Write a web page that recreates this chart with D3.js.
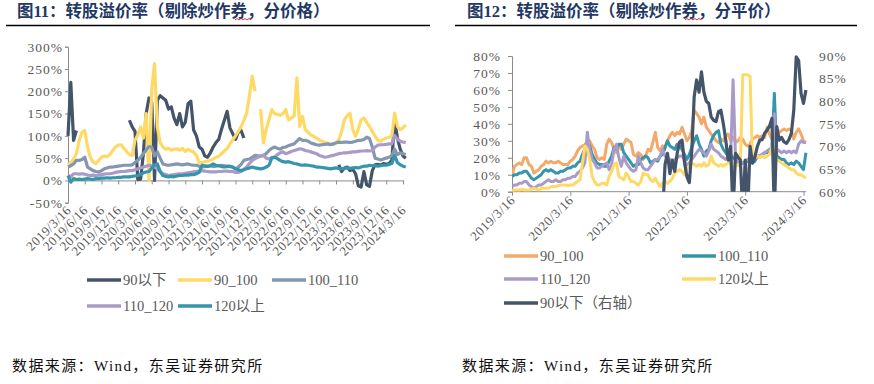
<!DOCTYPE html>
<html>
<head>
<meta charset="utf-8">
<script src="https://cdn.jsdelivr.net/npm/d3@7/dist/d3.min.js"></script>
<style>
  body { margin: 0; background: #fff; }
  svg text { font-family: "Liberation Serif", "Noto Sans CJK SC", serif; }
</style>
</head>
<body>
<svg width="874" height="384"></svg>
<script>
// values are read every half month, starting 2019/3/16
const ticksLeft = ["2019/3/16", "2019/6/16", "2019/9/16", "2019/12/16", "2020/3/16", "2020/6/16",
  "2020/9/16", "2020/12/16", "2021/3/16", "2021/6/16", "2021/9/16", "2021/12/16", "2022/3/16",
  "2022/6/16", "2022/9/16", "2022/12/16", "2023/3/16", "2023/6/16", "2023/9/16", "2023/12/16", "2024/3/16"];
const ticksRight = ["2019/3/16", "2020/3/16", "2021/3/16", "2022/3/16", "2023/3/16", "2024/3/16"];
const yTicksLeft = [-50, 0, 50, 100, 150, 200, 250, 300];
const yTicksRight = [0, 10, 20, 30, 40, 50, 60, 70, 80];
const yTicksRight2 = [60, 65, 70, 75, 80, 85, 90];

const namesLeft = ["90以下", "90_100", "100_110", "110_120", "120以上"];
const namesRight = ["90_100", "100_110", "110_120", "120以上", "90以下（右轴）"];

// chart 11
const L90down = [
  100, 220, 90, 112, null, null, null, null, null, null,
  null, null, null, null, null, null, null, null, null, null,
  null, null, 135, 120, 110, 2, 3, 60, 150, 185,
  175, 0, 180, 190, 185, 180, 160, 165, 140, 125,
  150, 120, 130, 172, 178, 113, 100, 75, 70, 55,
  52, 62, 75, 85, 92, 115, 135, 155, 118, 105,
  92, 108, 112, 95, null, null, null, null, null, null,
  null, null, null, null, null, null, null, null, null, null,
  null, null, null, null, null, null, null, null, null, null,
  null, null, null, null, null, null, null, 35, 20, 28,
  30, 22, 25, 15, -12, -15, 20, -10, -13, 22,
  35, 36, 34, 38, 36, 38, 45, 135, 95, 70,
  55, 50];
const L90_100 = [
  35, 40, 48, 60, 90, 108, 112, 75, 52, 41,
  38, 45, 52, 55, 53, 58, 67, 75, 79, 80,
  72, 65, 58, 56, 90, 102, 120, 95, 150, 0,
  205, 262, 120, 85, 75, 70, 72, 68, 70, 71,
  68, 72, 65, 70, 66, 64, 56, 40, 40, 42,
  43, 45, 48, 52, 54, 60, 66, 72, 82, 91,
  100, 110, 120, 135, 151, 190, 234, 200, null, 160,
  84, 114, 136, 159, 150, 148, 146, 150, 159, 136,
  140, 144, 230, 121, 144, 114, 108, 102, 99, 95,
  91, 88, 85, 84, 82, 80, 85, 91, 110, 136,
  145, 151, 114, 99, 115, 136, 140, 130, 121, 110,
  99, 90, 88, 92, 95, 97, 99, 151, 121, 114,
  118, 125];
const L100_110 = [
  30, 33, 37, 45, 45, 47, 52, 30, 26, 22,
  20, 19, 22, 26, 28, 30, 30, 31, 32, 33,
  34, 34, 34, 35, 40, 45, 52, 60, 68, 76,
  75, 55, 64, 50, 37, 35, 34, 35, 36, 37,
  36, 35, 36, 37, 35, 34, 34, 32, 30, 31,
  32, 33, 31, 32, 33, 34, 33, 32, 31, 30,
  26, 30, 36, 45, 47, 48, 52, 56, 55, 54,
  56, 60, 67, 72, 75, 72, 70, 74, 75, 78,
  80, 82, 88, 94, 90, 90, 88, 84, 82, 80,
  79, 80, 81, 82, 80, 82, 84, 86, 85, 86,
  86, 85, 86, 88, 90, 90, 92, 97, 94, 75,
  50, 48, 46, 48, 50, 52, 55, 70, 58, 62,
  60, 58];
const L110_120 = [
  12, 8, 15, 15, 14, 15, 14, 12, 11, 12,
  11, 12, 13, 14, 15, 15, 16, 18, 19, 20,
  20, 21, 22, 22, 24, 26, 28, 30, 32, 34,
  33, 30, 26, 20, 15, 13, 11, 12, 13, 14,
  15, 15, 16, 17, 18, 19, 20, 21, 22, 21,
  20, 19, 19, 19, 20, 20, 21, 21, 20, 20,
  18, 18, 20, 25, 30, 38, 45, 49, 52, 55,
  56, 50, 48, 52, 52, 58, 62, 64, 60, 62,
  65, 67, 69, 71, 70, 67, 66, 64, 62, 60,
  56, 54, 52, 53, 55, 56, 58, 60, 61, 62,
  62, 63, 64, 64, 65, 66, 66, 67, 66, 67,
  75, 79, 80, 80, 81, 82, 82, 101, 92, 88,
  86, 85];
const L120up = [
  11, -4, 4, 2, 3, 2, 3, 4, 3, 2,
  4, 4, 5, 5, 6, 5, 6, 6, 7, 7,
  8, 8, 8, 9, 10, 11, 13, 17, 19, 20,
  28, 35, 37, 20, 11, 9, 8, 9, 8, 10,
  11, 11, 12, 12, 13, 13, 15, 18, 34, 33,
  31, 33, 37, 34, 33, 31, 30, 31, 32, 30,
  26, 24, 22, 24, 26, 28, 30, 28, 27, 26,
  27, 30, 34, 50, 52, 49, 45, 42, 41, 42,
  40, 38, 37, 35, 34, 35, 34, 33, 32, 30,
  30, 29, 28, 27, 26, 27, 28, 27, 26, 27,
  28, 27, 28, 29, 28, 30, 32, 32, 34, 33,
  33, 32, 33, 34, 34, 36, 38, 56, 40, 35,
  32, 30];

// chart 12
const R90_100 = [
  9, 15, 16, 17, 16, 20, 20, 16, 15, 11,
  12, 13, 15, 16, 18, 17, 18, 17, 17, 18,
  17, 16, 16, 16, 18, 19, 21, 24, 26, 27,
  27.5, 30, 30, 27, 25, 20, 19, 20, 19, 28,
  31, 29, 25, 23, 27, 25, 28, 31, 30, 29,
  22, 21, 23, 22, 19, 21, 25, 24, 29, 35,
  26, 24, 27, 26, 30, 33, 35, 33, 35, 34,
  38, 34, 30, 32, 36, 48, 46, 44, 40, 44,
  38, 36, 34, 32, 30, 29, 31, 30, 33, 34,
  30, 32, 29, 30, 32, 31, 28, 27, 28, 31,
  32, 33, 32, 33, 32, 38, 34, 31, 33, 34,
  35, 36, 37, 36, 37, 36, 31, 35, 37, 34,
  30, 29];
const R100_110 = [
  9, 10, 10, 11, 11, 12, 12, 10, 8, 7,
  8, 9, 10, 12, 13, 12, 13, 12, 11, 11,
  12, 12, 13, 14, 14, 15, 15, 17, 18, 22,
  25, 30, 27, 22, 19, 17, 16, 16, 15, 15,
  18, 21, 26, 25, 28, 28, 23, 21, 19, 17,
  15, 16, 16, 19, 20, 21, 20, 17, 18, 19,
  18, 21, 22, 26, 30, 27, 26, 25, 28, 27,
  25, 22, 19, 22, 26, 30, 33, 28, 25, 21,
  24, 25, 30, 33, 35, 36, 28, 25, 23, 21,
  22, 20, 19, 17, 16, 17, 17, 18, 18, 17,
  18, 21, 21, 22, 23, 23, 25, 25, 58, 21,
  20, 19, 19, 17, 16, 17, 16, 18, 17, 15,
  13, 23];
const R110_120 = [
  3, 4, 4, 5, 5, 6, 6, 4, 3, 2,
  3, 4, 4, 5, 6, 7, 6, 6, 7, 6,
  6, 7, 7, 8, 8, 9, 9, 11, 12, 14,
  17, 35, 25, 19, 17, 14, 14, 15, 16, 17,
  13, 16, 25, 28, 20, 15, 21, 17, 15, 13,
  12, 13, 21, 17, 14, 13, 13, 15, 17, 19,
  19, 21, 25, 21, 20, 19, 18, 19, 20, 21,
  21, 19, 15, 17, 19, 21, 23, 25, 24, 23,
  21, 24, 28, 25, 24, 23, 21, 20, 19, 21,
  20, 66, 21, 17, 18, 17, 18, 19, 20, 19,
  21, 20, 21, 22, 23, 24, 25, 24, 46, 25,
  24, 23, 24, 23, 24, 23, 24, 23, 28, 30,
  29, 29];
const R120up = [
  0.5, 1, 1, 1, 1.5, 1, 1, 1, 1.5, 2,
  1.5, 1, 2, 2, 2, 2, 3, 3, 3, 3.5,
  4, 4, 4, 3.5, 4, 4, 5, 6, 7, 17,
  27, 25, 19, 9, 6, 4, 4, 5, 5, 4,
  9, 12, 16, 17, 9, 8, 7, 11, 9, 6,
  6, 5, 4, 6, 11, 10, 10, 7, 6, 8,
  5, 3, 5, 6, 5, 6, 8, 11, 12, 13,
  12, 10, 14, 15, 17, 16, 15, 16, 15, 17,
  15, 16, 21, 17, 16, 15, 16, 15, 16, 17,
  19, 12, 15, 16, 15, 69, 69, 69, 68, 19,
  20, 21, 20, 21, 20, 21, 22, 26, 23, 19,
  18, 17, 16, 15, 14, 13, 13, 11, 10, 10,
  9, 8];
const R90down = [
  null, null, null, null, null, null, null, null, null, null,
  null, null, null, null, null, null, null, null, null, null,
  null, null, null, null, null, null, null, null, null, null,
  null, null, null, null, null, null, null, null, null, null,
  null, null, null, null, null, null, null, null, null, null,
  null, null, null, null, null, null, null, null, null, null,
  null, null, 55, 66, 68.5, 64, 67, 64.5, 68.5, 71,
  71.4, 66.5, 63.3, 62, 69, 81, 84.7, 82, 86.5, 82,
  80, 79.5, 76.5, 75.8, 75.5, 77.7, 78, 75, 71.4, 67,
  70, 55, 68.5, 67.7, 67, 55, 67, 55, 70, 66.3,
  67.7, 70, 71.4, 71.5, 72.9, 73.6, 74.5, 76.2, 55, 74.4,
  71.4, 72, 71, 70.7, 71.5, 72.9, 78, 89.8, 89, 81.7,
  79.5, 82.5];

const C = { dark: "#44546a", yellow: "#ffd966", grey: "#8497b0", purple: "#a99bc8", teal: "#3596ab", orange: "#f4a86a" };
const axisColor = "#8c8c8c", textColor = "#595959";

const svg = d3.select("svg");
svg.append("rect").attr("width", 874).attr("height", 384).attr("fill", "#fff");

// titles
function title(x, x0, x1, txt, redX) {
  svg.append("text").attr("x", x).attr("y", 17).attr("font-size", 16.5).attr("font-weight", "bold")
    .attr("fill", "#1f3864").text(txt);
  svg.append("line").attr("x1", x0).attr("x2", x1).attr("y1", 25.5).attr("y2", 25.5)
    .attr("stroke", "#000").attr("stroke-width", 1.6);
  const p = d3.path();
  p.moveTo(redX, 20);
  for (let k = 1; k <= 8; k++) p.lineTo(redX + k * 2, k % 2 ? 18.5 : 20);
  svg.append("path").attr("d", p.toString()).attr("fill", "none").attr("stroke", "#e02020").attr("stroke-width", 0.9);
}
title(17, 6, 430, "图11：转股溢价率（剔除炒作券，分价格）", 235);
title(467, 455, 857, "图12：转股溢价率（剔除炒作券，分平价）", 685);

svg.selectAll(".src").data([12, 462]).enter().append("text")
  .attr("x", d => d).attr("y", 371).attr("font-size", 15).attr("fill", "#111")
  .style("letter-spacing", "1.4px")
  .text("数据来源：Wind，东吴证券研究所");

function styleAxis(g) {
  g.select(".domain").attr("stroke", axisColor);
  g.selectAll(".tick line").attr("stroke", axisColor);
  g.selectAll("text").attr("fill", textColor).attr("font-size", 13.5)
    .attr("font-family", "Liberation Serif, serif").style("letter-spacing", "1px");
}

function drawLines(g, x, y, series, colors, width) {
  series.forEach((s, k) => {
    const line = d3.line().defined(d => d != null).x((d, i) => x(i)).y(d => y(d));
    g.append("path").attr("d", line(s)).attr("fill", "none").attr("stroke", colors[k])
      .attr("stroke-width", width).attr("stroke-linejoin", "round");
  });
}

function legend(items, colors, positions) {
  items.forEach((name, k) => {
    const [lx, ly] = positions[k];
    svg.append("line").attr("x1", lx).attr("x2", lx + 34).attr("y1", ly).attr("y2", ly)
      .attr("stroke", colors[k]).attr("stroke-width", 3.5);
    svg.append("text").attr("x", lx + 36).attr("y", ly + 5).attr("font-size", 14.5)
      .attr("fill", textColor).text(name);
  });
}

// ---------- chart 11 ----------
const xL = d3.scaleLinear().domain([0, 120]).range([68, 403]);
const yL = d3.scaleLinear().domain([-50, 300]).range([202.7, 46.7]);

const gyL = svg.append("g").attr("transform", "translate(68,0)")
  .call(d3.axisLeft(yL).tickValues(yTicksLeft).tickSize(3).tickPadding(2).tickFormat(d => d + "%"));
styleAxis(gyL);

const gxL = svg.append("g").attr("transform", `translate(0,${yL(0)})`)
  .call(d3.axisBottom(xL).tickValues(d3.range(0, 121, 6)).tickSize(4).tickSizeOuter(0).tickFormat(""));
styleAxis(gxL);
svg.selectAll(".xlabL").data(ticksLeft).enter().append("text")
  .attr("transform", (d, i) => `translate(${xL(i * 6) + 4},211) rotate(-45)`)
  .attr("text-anchor", "end").attr("font-size", 13).attr("fill", textColor)
  .style("letter-spacing", "0.5px").text(d => d);

drawLines(svg.append("g"), xL, yL, [L90down, L90_100, L100_110, L110_120, L120up],
  [C.dark, C.yellow, C.grey, C.purple, C.teal], 3.2);

legend(namesLeft, [C.dark, C.yellow, C.grey, C.purple, C.teal],
  [[87, 280], [178, 280], [272, 280], [87, 306], [178, 306]]);

// ---------- chart 12 ----------
const xR = d3.scaleLinear().domain([0, 120]).range([512, 803.5]);
const yR = d3.scaleLinear().domain([0, 80]).range([191.7, 56]);
const yR2 = d3.scaleLinear().domain([60, 90]).range([191.7, 56]);

const gyR = svg.append("g").attr("transform", "translate(512,0)")
  .call(d3.axisLeft(yR).tickValues(yTicksRight).tickSize(4).tickPadding(7).tickFormat(d => d + "%"));
styleAxis(gyR);
const gyR2 = svg.append("g").attr("transform", "translate(812,0)")
  .call(d3.axisRight(yR2).tickValues(yTicksRight2).tickSize(0).tickPadding(7).tickFormat(d => d + "%"));
styleAxis(gyR2);
gyR2.select(".domain").remove();

const gxR = svg.append("g").attr("transform", `translate(0,${yR(0)})`)
  .call(d3.axisBottom(xR).tickValues(d3.range(0, 121, 24)).tickSize(4).tickSizeOuter(0).tickFormat(""));
styleAxis(gxR);
gxR.select(".domain").attr("d", `M512,0H806`);
svg.selectAll(".xlabR").data(ticksRight).enter().append("text")
  .attr("transform", (d, i) => `translate(${xR(i * 24) + 4},201) rotate(-45)`)
  .attr("text-anchor", "end").attr("font-size", 13).attr("fill", textColor)
  .style("letter-spacing", "0.5px").text(d => d);

svg.append("clipPath").attr("id", "clipR").append("rect")
  .attr("x", 512).attr("y", 50).attr("width", 300).attr("height", 141.7);
const gR = svg.append("g").attr("clip-path", "url(#clipR)");
drawLines(gR, xR, yR, [R90_100, R100_110, R110_120, R120up], [C.orange, C.teal, C.purple, C.yellow], 3);
drawLines(gR, xR, yR2, [R90down], [C.dark], 3.2);

legend(namesRight, [C.orange, C.teal, C.purple, C.yellow, C.dark],
  [[504, 256], [682, 256], [504, 279], [682, 279], [504, 303]]);
</script>
</body>
</html>
